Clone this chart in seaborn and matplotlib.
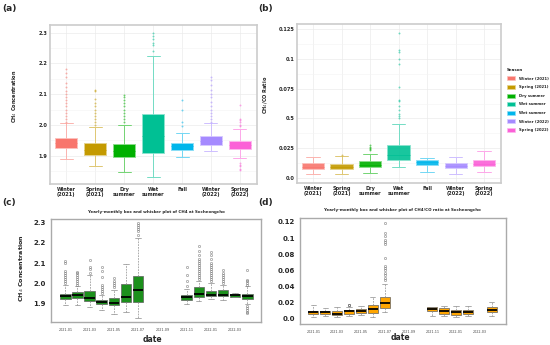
import numpy as np
import pandas as pd
import matplotlib
matplotlib.use('Agg')
import matplotlib.pyplot as plt
from matplotlib.patches import Patch
from matplotlib.colors import to_rgb
from matplotlib.ticker import MultipleLocator
import seaborn as sns

# ---- seasonal panels (a), (b) ----
season_ticks = ['Winter\n(2021)', 'Spring\n(2021)', 'Dry\nsummer', 'Wet\nsummer',
                'Fall', 'Winter\n(2022)', 'Spring\n(2022)']
season_legend = ['Winter (2021)', 'Spring (2021)', 'Dry summer', 'Wet summer',
                 'Wet summer', 'Winter (2022)', 'Spring (2022)']
season_colors = ['#F8766D', '#C49A00', '#00B000', '#00C094', '#00B6EB', '#A58AFF', '#FB61D7']

ch4_q1 = [1.926, 1.903, 1.896, 1.910, 1.918, 1.936, 1.922]
ch4_med = [1.940, 1.920, 1.915, 1.965, 1.930, 1.948, 1.935]
ch4_q3 = [1.958, 1.940, 1.937, 2.037, 1.942, 1.964, 1.948]
ch4_lo = [1.890, 1.867, 1.846, 1.830, 1.897, 1.915, 1.891]
ch4_hi = [2.005, 1.994, 1.999, 2.224, 1.975, 2.005, 1.986]
ch4_fliers = [
    [2.01, 2.02, 2.03, 2.04, 2.05, 2.06, 2.07, 2.08, 2.09, 2.10, 2.11, 2.122, 2.135, 2.155, 2.168, 2.183],
    [2.0, 2.01, 2.02, 2.03, 2.04, 2.05, 2.06, 2.07, 2.085, 2.11, 2.114],
    [2.01, 2.02, 2.03, 2.04, 2.05, 2.06, 2.07, 2.08, 2.09, 2.097],
    [2.24, 2.26, 2.265, 2.28, 2.29, 2.30],
    [1.997, 2.011, 2.049, 2.08],
    [2.01, 2.02, 2.03, 2.04, 2.05, 2.06, 2.075, 2.09, 2.10, 2.115, 2.13, 2.145, 2.155],
    [2.065, 2.02, 2.015, 2.01, 2.0, 1.995, 1.875, 1.87, 1.865, 1.858, 1.853],
]
ch4_yticks = [1.9, 2.0, 2.1, 2.2, 2.3]

ratio_q1 = [0.0078, 0.0073, 0.0089, 0.0151, 0.0106, 0.0081, 0.0098]
ratio_med = [0.0095, 0.0090, 0.0110, 0.0190, 0.0130, 0.0100, 0.0120]
ratio_q3 = [0.0126, 0.0117, 0.0140, 0.0279, 0.0153, 0.0128, 0.0151]
ratio_lo = [0.0036, 0.0036, 0.0042, 0.0092, 0.0050, 0.0036, 0.0050]
ratio_hi = [0.0176, 0.0187, 0.0204, 0.0452, 0.0170, 0.0173, 0.0226]
ratio_fliers = [
    [], [0.019], [0.0232, 0.024, 0.025, 0.026, 0.0276],
    [0.050, 0.0516, 0.0536, 0.0572, 0.060, 0.0642, 0.0656, 0.0767, 0.0957, 0.0996, 0.1055, 0.1074, 0.1214],
    [], [], [],
]
ratio_yticks = [0.0, 0.025, 0.05, 0.075, 0.1, 0.125]
ratio_ylabels = ['0.0', '0.025', '0.5', '0.075', '0.1', '0.125']

# ---- monthly panels (c), (d) ----
month_axis = ['2021-01', '2021-02', '2021-03', '2021-04', '2021-05', '2021-06', '2021-07', '2021-08',
              '2021-09', '2021-10', '2021-11', '2021-12', '2022-01', '2022-02', '2022-03', '2022-04']

c_months = ['2021-01', '2021-02', '2021-03', '2021-04', '2021-05', '2021-06', '2021-07',
            '2021-11', '2021-12', '2022-01', '2022-02', '2022-03', '2022-04']
c_q1 = [1.920, 1.928, 1.913, 1.897, 1.892, 1.905, 1.907, 1.918, 1.931, 1.935, 1.935, 1.931, 1.921]
c_med = [1.935, 1.941, 1.926, 1.908, 1.903, 1.933, 1.966, 1.931, 1.946, 1.943, 1.943, 1.941, 1.935]
c_q3 = [1.948, 1.955, 1.963, 1.918, 1.926, 1.994, 2.037, 1.943, 1.983, 1.963, 1.965, 1.948, 1.948]
c_lo = [1.893, 1.890, 1.880, 1.867, 1.849, 1.857, 1.829, 1.897, 1.913, 1.921, 1.917, 1.930, 1.897]
c_hi = [1.990, 1.984, 2.039, 1.943, 1.968, 2.097, 2.224, 1.973, 2.010, 2.001, 1.993, 1.952, 1.984]
c_fliers = [
    [2.0, 2.01, 2.02, 2.03, 2.04, 2.05, 2.06, 2.10, 2.112],
    [1.99, 2.0, 2.01, 2.02, 2.03, 2.04, 2.05, 2.055],
    [2.05, 2.07, 2.08, 2.117],
    [1.95, 1.96, 1.97, 1.98, 1.99, 2.03, 2.06, 2.08],
    [1.98, 1.99, 2.0, 2.01, 2.026],
    [],
    [2.24, 2.26, 2.27, 2.28, 2.29, 2.30],
    [1.985, 2.009, 2.042, 2.082],
    [2.02, 2.03, 2.04, 2.05, 2.06, 2.07, 2.08, 2.09, 2.10, 2.11, 2.12, 2.14, 2.16, 2.183],
    [2.01, 2.02, 2.03, 2.04, 2.05, 2.06, 2.07, 2.08, 2.09, 2.10, 2.12, 2.14, 2.155],
    [2.0, 2.01, 2.02, 2.03, 2.04, 2.05, 2.067],
    [],
    [1.99, 2.0, 2.01, 2.017, 2.067, 1.885, 1.875, 1.865, 1.858, 1.852],
]

d_months = ['2021-01', '2021-02', '2021-03', '2021-04', '2021-05', '2021-06', '2021-07',
            '2021-11', '2021-12', '2022-01', '2022-02', '2022-04']
d_q1 = [0.0055, 0.0065, 0.0045, 0.0065, 0.0070, 0.0075, 0.0131, 0.0095, 0.0055, 0.0050, 0.0055, 0.0080]
d_med = [0.0080, 0.0085, 0.0065, 0.0090, 0.0090, 0.0115, 0.0193, 0.0125, 0.0095, 0.0085, 0.0085, 0.0110]
d_q3 = [0.0100, 0.0100, 0.0090, 0.0110, 0.0115, 0.0165, 0.0275, 0.0140, 0.0130, 0.0110, 0.0110, 0.0140]
d_lo = [0.0025, 0.0030, 0.0020, 0.0035, 0.0045, 0.0025, 0.0082, 0.0040, 0.0030, 0.0025, 0.0040, 0.0040]
d_hi = [0.0165, 0.0135, 0.0150, 0.0145, 0.0160, 0.0265, 0.0435, 0.0150, 0.0160, 0.0155, 0.0155, 0.0210]
d_fliers = [
    [], [], [], [0.0165, 0.017, 0.0175], [], [],
    [0.048, 0.051, 0.054, 0.057, 0.060, 0.063, 0.065, 0.075, 0.093, 0.095, 0.097, 0.103, 0.106, 0.119],
    [], [], [], [], [],
]
d_yticks = [0.0, 0.02, 0.04, 0.06, 0.08, 0.1, 0.12]
d_ylabels = ['0.0', '0.02', '0.04', '0.06', '0.08', '0.1', '0.12']

sns.set_theme(style='white')
plt.rcParams['font.family'] = ['DejaVu Sans']
pal = sns.color_palette(season_colors)

W, H = 550, 345
fig = plt.figure(figsize=(W / 100, H / 100), dpi=100)


def rect(l, t, r, b):
    return [l / W, 1 - b / H, (r - l) / W, (b - t) / H]


def px(x, y):
    return x / W, 1 - y / H


def pale(c, k=0.5):
    return tuple(np.array(to_rgb(c)) * (1 - k) + k)


def stats_of(q1, med, q3, lo, hi, fl):
    return [dict(q1=a, med=b, q3=c, whislo=d, whishi=e, fliers=f)
            for a, b, c, d, e, f in zip(q1, med, q3, lo, hi, fl)]


def month_pos(months):
    base = pd.Period(month_axis[0], freq='M')
    return [(pd.Period(m, freq='M') - base).n for m in months]


def season_panel(ax, stats, width):
    res = ax.bxp(stats, positions=range(7), widths=width, capwidths=width * 0.6,
                 patch_artist=True, showfliers=True)
    for i, c in enumerate(pal):
        res['boxes'][i].set(facecolor=c, edgecolor=pale(c, 0.55), lw=0.7)
        res['medians'][i].set(color=c, lw=0.5)
        for art in res['whiskers'][2 * i:2 * i + 2] + res['caps'][2 * i:2 * i + 2]:
            art.set(color=pale(c, 0.45), lw=0.7)
        res['fliers'][i].set(marker='o', ms=1.4, mfc=c, mec='none', alpha=0.55)
    ax.set_xlim(-0.56, 6.59)
    ax.set_xticks(range(7))
    ax.set_xticklabels(season_ticks, fontsize=3.6, fontweight='bold', linespacing=1.0)
    ax.set_axisbelow(True)
    ax.grid(True, which='major', color='#EBEBEB', lw=0.5)
    ax.grid(True, which='minor', axis='y', color='#F3F3F3', lw=0.4)
    ax.tick_params(axis='both', which='both', length=0, pad=2)
    for s in ax.spines.values():
        s.set(color='#CCCCCC', lw=1.2)


# (a)
ax_a = fig.add_axes(rect(50, 25, 257, 184))
season_panel(ax_a, stats_of(ch4_q1, ch4_med, ch4_q3, ch4_lo, ch4_hi, ch4_fliers), 0.75)
ax_a.set_ylim(1.808, 2.325)
ax_a.set_yticks(ch4_yticks)
ax_a.set_yticklabels([f'{v:.1f}' for v in ch4_yticks], fontsize=3.6, fontweight='bold')
ax_a.yaxis.set_minor_locator(MultipleLocator(0.05))
fig.text(*px(15, 96), 'CH$_4$ Concentration', rotation=90, ha='center', va='center',
         fontsize=3.6, fontweight='bold')

# (b)
ax_b = fig.add_axes(rect(297, 24, 501, 183))
season_panel(ax_b, stats_of(ratio_q1, ratio_med, ratio_q3, ratio_lo, ratio_hi, ratio_fliers), 0.78)
for p in ax_b.patches:
    p.set_alpha(0.9)
ax_b.set_ylim(-0.0042, 0.1292)
ax_b.set_yticks(ratio_yticks)
ax_b.set_yticklabels(ratio_ylabels, fontsize=3.6, fontweight='bold')
ax_b.yaxis.set_minor_locator(MultipleLocator(0.0125))
fig.text(*px(266, 95), 'CH$_4$/CO Ratio', rotation=90, ha='center', va='center',
         fontsize=3.6, fontweight='bold')

handles = [Patch(facecolor=c, edgecolor=pale(c, 0.55), lw=0.5) for c in pal]
leg = fig.legend(handles, season_legend, title='Season', loc='upper left',
                 bbox_to_anchor=px(507, 68), frameon=False, fontsize=2.7, title_fontsize=2.9,
                 handlelength=2.0, handleheight=1.3, handletextpad=1.2, labelspacing=1.15,
                 alignment='left', borderaxespad=0, borderpad=0)
leg.get_title().set_fontweight('bold')
for t in leg.get_texts():
    t.set_fontweight('bold')


def month_panel(ax, stats, pos, fill, title):
    res = ax.bxp(stats, positions=pos, widths=0.86, capwidths=0.45, patch_artist=True,
                 showfliers=True)
    for b in res['boxes']:
        b.set(facecolor=fill, edgecolor='#606060', lw=0.5)
    for m in res['medians']:
        m.set(color='black', lw=1.3)
    for w in res['whiskers']:
        w.set(color='#8C8C8C', lw=0.5, ls=(0, (2.5, 1.5)))
    for c in res['caps']:
        c.set(color='#8C8C8C', lw=0.5)
    for f in res['fliers']:
        f.set(marker='o', ms=1.6, mfc='none', mec='#6E6E6E', mew=0.35)
    ax.set_xticks(range(len(month_axis)))
    ax.set_xticklabels([m if i % 2 == 0 else '' for i, m in enumerate(month_axis)],
                       fontsize=2.4, color='#444444')
    ax.tick_params(axis='both', length=2, width=0.4, color='#777777', pad=2)
    ax.tick_params(axis='y', labelsize=5, pad=1.5)
    for lab in ax.get_yticklabels():
        lab.set_fontweight('bold')
    for s in ax.spines.values():
        s.set(color='#AAAAAA', lw=1.0)
    ax.set_xlabel('')
    ax.set_ylabel('')


# (c)
ax_c = fig.add_axes(rect(51, 219, 261, 322))
month_panel(ax_c, stats_of(c_q1, c_med, c_q3, c_lo, c_hi, c_fliers), month_pos(c_months),
            '#1C901C', '')
ax_c.set_xlim(-1.18, 16.13)
ax_c.set_ylim(1.808, 2.318)
ax_c.set_yticks(ch4_yticks)
ax_c.set_yticklabels([f'{v:.1f}' for v in ch4_yticks], fontsize=5, fontweight='bold')
fig.text(*px(22, 268), 'CH$_4$ Concentration', rotation=90, ha='center', va='center',
         fontsize=4.6, fontweight='bold')
fig.text(*px(156, 211.5), 'Yearly-monthly box and whisker plot of CH4 at Socheongcho',
         ha='center', va='center', fontsize=2.9, fontweight='bold')
fig.text(*px(152, 339), 'date', ha='center', va='center', fontsize=5.5, fontweight='bold')

# (d)
ax_d = fig.add_axes(rect(300, 218, 506, 324))
month_panel(ax_d, stats_of(d_q1, d_med, d_q3, d_lo, d_hi, d_fliers), month_pos(d_months),
            '#FFA500', '')
ax_d.set_xlim(-1.12, 16.2)
ax_d.set_ylim(-0.0065, 0.1248)
ax_d.set_yticks(d_yticks)
ax_d.set_yticklabels(d_ylabels, fontsize=5, fontweight='bold')
fig.text(*px(402, 209.5), 'Yearly-monthly box and whisker plot of CH4/CO ratio at Socheongcho',
         ha='center', va='center', fontsize=2.9, fontweight='bold')
fig.text(*px(400, 338), 'date', ha='center', va='center', fontsize=5.5, fontweight='bold')

# panel letters
for lab, x, y in [('(a)', 9, 8), ('(b)', 266, 8), ('(c)', 9, 202), ('(d)', 266, 202)]:
    fig.text(*px(x, y), lab, ha='center', va='center', fontsize=6.5, fontweight='bold')

fig.savefig('out.png', dpi=100)
